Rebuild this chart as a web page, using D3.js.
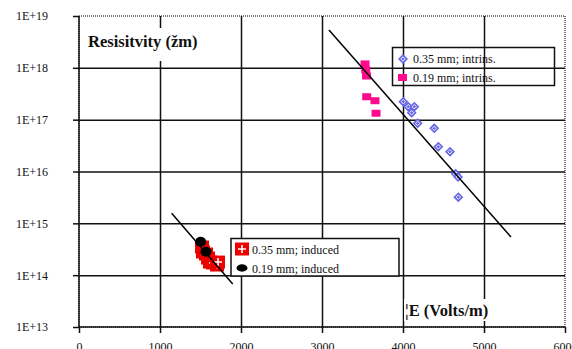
<!DOCTYPE html>
<html>
<head>
<meta charset="utf-8">
<script src="https://cdn.jsdelivr.net/npm/d3@7"></script>
<style>
  body { margin: 0; background: #fff; }
  text { font-family: "Liberation Serif", "Times New Roman", serif; fill: #111; }
  .title { font-size: 16.5px; font-weight: bold; }
  .legend-text { font-size: 12px; }
</style>
</head>
<body>
<svg width="572" height="349"></svg>
<script>
// values: [field (V/m), resistivity]
var intrins035 = [[4004, 2.22e17], [4065, 1.78e17], [4140, 1.78e17], [4107, 1.36e17],
    [4181, 8.5e16], [4386, 6.8e16], [4436, 3.0e16], [4580, 2.4e16],
    [4650, 9.0e15], [4680, 7.8e15], [4683, 3.2e15]];
var intrins019 = [[3531, 1.19e18], [3540, 9.1e17], [3550, 6.95e17],
    [3552, 2.77e17], [3654, 2.32e17], [3667, 1.33e17]];
var induced035 = [[1519, 3.49e14], [1531, 2.80e14], [1568, 2.56e14], [1593, 2.14e14],
    [1617, 1.79e14], [1654, 1.72e14], [1704, 1.57e14], [1716, 1.79e14]];
var induced019 = [[1502, 4.4e14], [1568, 2.83e14]];
var fitIntrins = [[3086, 5.37e18], [5333, 5.45e14]];
var fitInduced = [[1144, 1.56e15], [1898, 6.75e13]];

var xTicks = [0, 1000, 2000, 3000, 4000, 5000, 6000];
var yTicks = [1e13, 1e14, 1e15, 1e16, 1e17, 1e18, 1e19];
var yTickLabels = ['1E+13', '1E+14', '1E+15', '1E+16', '1E+17', '1E+18', '1E+19'];

var svg = d3.select('svg');
var plot = {left: 79, top: 16, right: 565, bottom: 327};
var serif = '"Liberation Serif", "Times New Roman", serif';

var xScale = d3.scaleLinear().domain([0, 6000]).range([plot.left, plot.right]);
var yScale = d3.scaleLog().domain([1e13, 1e19]).range([plot.bottom, plot.top]);

// outer frame (grey dotted)
svg.append('rect')
    .attr('x', plot.left)
    .attr('y', plot.top)
    .attr('width', plot.right - plot.left)
    .attr('height', plot.bottom - plot.top)
    .style('fill', 'none')
    .style('stroke', '#777')
    .style('stroke-width', 2)
    .style('stroke-dasharray', '1,1');

// grid lines
svg.append('g')
    .attr('class', 'x grid')
    .attr('transform', 'translate(0,' + plot.bottom + ')')
    .call(d3.axisBottom(xScale).tickValues(xTicks.slice(1, -1))
        .tickSize(-(plot.bottom - plot.top)).tickFormat(''))
    .call(function(g) { g.select('.domain').remove(); })
    .selectAll('line').style('stroke', '#111').style('stroke-width', 1.5);

svg.append('g')
    .attr('class', 'y grid')
    .attr('transform', 'translate(' + plot.left + ',0)')
    .call(d3.axisLeft(yScale).tickValues(yTicks.slice(1, -1))
        .tickSize(-(plot.right - plot.left)).tickFormat(''))
    .call(function(g) { g.select('.domain').remove(); })
    .selectAll('line').style('stroke', '#111').style('stroke-width', 1.5);

// axes with outside ticks
var yAxis = svg.append('g')
    .attr('transform', 'translate(' + plot.left + ',0)')
    .call(d3.axisLeft(yScale).tickValues(yTicks).tickSize(6)
        .tickFormat(function(d, i) { return yTickLabels[i]; }));
yAxis.select('.domain').attr('d', 'M0,' + plot.top + 'V' + plot.bottom)
    .style('stroke', '#111').style('stroke-width', 1.5);
yAxis.selectAll('line').style('stroke', '#111').style('stroke-width', 1.5);
yAxis.selectAll('text').attr('x', -31)
    .style('font-family', serif).style('font-size', '12px').style('fill', '#111');

var xAxis = svg.append('g')
    .attr('transform', 'translate(0,' + plot.bottom + ')')
    .call(d3.axisBottom(xScale).tickValues(xTicks).tickSize(6).tickFormat(d3.format('d')));
xAxis.select('.domain').attr('d', 'M' + plot.left + ',0H' + plot.right)
    .style('stroke', '#111').style('stroke-width', 1.5);
xAxis.selectAll('line').style('stroke', '#111').style('stroke-width', 1.5);
xAxis.selectAll('text').attr('y', 15).attr('dy', '0.71em')
    .style('font-family', serif).style('font-size', '12px').style('fill', '#111');

// titles with white backing (they hide the grid)
svg.append('rect').attr('x', 84).attr('y', 28).attr('width', 134).attr('height', 33).style('fill', '#fff');
svg.append('text').attr('class', 'title').attr('x', 88).attr('y', 47).text('Resisitvity (žm)');
svg.append('rect').attr('x', 404).attr('y', 299).attr('width', 104).attr('height', 22).style('fill', '#fff');
svg.append('text').attr('class', 'title').attr('x', 405).attr('y', 316).text('¦E (Volts/m)');

// marker helpers
function diamond(g, r) {
    g.append('path')
        .attr('d', 'M0,' + (-r) + 'L' + r + ',0L0,' + r + 'L' + (-r) + ',0Z')
        .style('fill', '#6666e6');
    g.append('path')
        .attr('d', 'M0,-2.2L2.2,0L0,2.2L-2.2,0Z')
        .style('fill', 'none').style('stroke', '#fff').style('stroke-width', 0.9);
}
function crossSquare(g) {
    g.append('rect').attr('x', -7).attr('y', -6.5).attr('width', 14).attr('height', 13)
        .style('fill', '#ee0000');
    g.append('path').attr('d', 'M-4,0H4M0,-4V4')
        .style('stroke', '#fff').style('stroke-width', 1.6);
}

// intrinsic 0.19 mm
svg.selectAll('.m019')
    .data(intrins019).enter()
    .append('rect').attr('class', 'm019')
    .attr('x', function(d) { return xScale(d[0]) - 4.5; })
    .attr('y', function(d) { return yScale(d[1]) - 3.5; })
    .attr('width', 9).attr('height', 7)
    .style('fill', '#ff0a8c');

// intrinsic 0.35 mm
svg.selectAll('.m035')
    .data(intrins035).enter()
    .append('g').attr('class', 'm035')
    .attr('transform', function(d) { return 'translate(' + xScale(d[0]) + ',' + yScale(d[1]) + ')'; })
    .each(function() { diamond(d3.select(this), 5); });

// induced 0.35 mm
svg.selectAll('.i035')
    .data(induced035).enter()
    .append('g').attr('class', 'i035')
    .attr('transform', function(d) { return 'translate(' + xScale(d[0]) + ',' + yScale(d[1]) + ')'; })
    .each(function() { crossSquare(d3.select(this)); });

// induced 0.19 mm
svg.selectAll('.i019')
    .data(induced019).enter()
    .append('ellipse').attr('class', 'i019')
    .attr('cx', function(d) { return xScale(d[0]); })
    .attr('cy', function(d) { return yScale(d[1]); })
    .attr('rx', 5.5).attr('ry', 5)
    .style('fill', '#000');

// fit lines
var line = d3.line()
    .x(function(d) { return xScale(d[0]); })
    .y(function(d) { return yScale(d[1]); });
[fitIntrins, fitInduced].forEach(function(f) {
    svg.append('path').attr('d', line(f))
        .style('fill', 'none').style('stroke', '#000').style('stroke-width', 1.5);
});

// legend: intrinsic (transparent box)
svg.append('rect').attr('x', 392.5).attr('y', 47.5).attr('width', 162).attr('height', 38)
    .style('fill', 'none').style('stroke', '#111').style('stroke-width', 1.5);
var lg1 = svg.append('g').attr('transform', 'translate(403,59)');
diamond(lg1, 5);
svg.append('rect').attr('x', 398).attr('y', 74).attr('width', 9).attr('height', 7).style('fill', '#ff0a8c');
svg.append('text').attr('class', 'legend-text').attr('x', 413).attr('y', 63).text('0.35 mm; intrins.');
svg.append('text').attr('class', 'legend-text').attr('x', 413).attr('y', 82).text('0.19 mm; intrins.');

// legend: induced (white box)
svg.append('rect').attr('x', 231).attr('y', 238.5).attr('width', 168).attr('height', 37.5)
    .style('fill', '#fff').style('stroke', '#111').style('stroke-width', 1.5);
var lg2 = svg.append('g').attr('transform', 'translate(242,249)');
crossSquare(lg2);
svg.append('ellipse').attr('cx', 242).attr('cy', 268).attr('rx', 5.5).attr('ry', 3.7).style('fill', '#000');
svg.append('text').attr('class', 'legend-text').attr('x', 252).attr('y', 254).text('0.35 mm; induced');
svg.append('text').attr('class', 'legend-text').attr('x', 252).attr('y', 273).text('0.19 mm; induced');
</script>
</body>
</html>
